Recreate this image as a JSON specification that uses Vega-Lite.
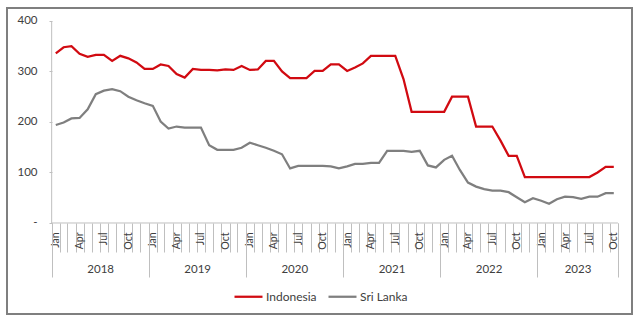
{
  "$schema": "https://vega.github.io/schema/vega-lite/v6.json",
  "width": 625,
  "height": 306,
  "autosize": {"type": "none"},
  "padding": {"left": 7, "top": 8, "right": 8, "bottom": 7},
  "config": {"font": "Lato", "view": {"stroke": "#7f7f7f", "strokeWidth": 2}},
  "layer": [
    {
      "data": {"values": [
        {"d": "2018/01/01", "Indonesia": 336, "Sri Lanka": 194},
        {"d": "2018/02/01", "Indonesia": 348, "Sri Lanka": 199},
        {"d": "2018/03/01", "Indonesia": 350, "Sri Lanka": 207},
        {"d": "2018/04/01", "Indonesia": 335, "Sri Lanka": 208},
        {"d": "2018/05/01", "Indonesia": 329, "Sri Lanka": 225},
        {"d": "2018/06/01", "Indonesia": 333, "Sri Lanka": 255},
        {"d": "2018/07/01", "Indonesia": 333, "Sri Lanka": 262},
        {"d": "2018/08/01", "Indonesia": 321, "Sri Lanka": 265},
        {"d": "2018/09/01", "Indonesia": 331, "Sri Lanka": 261},
        {"d": "2018/10/01", "Indonesia": 326, "Sri Lanka": 250},
        {"d": "2018/11/01", "Indonesia": 318, "Sri Lanka": 243},
        {"d": "2018/12/01", "Indonesia": 305, "Sri Lanka": 237},
        {"d": "2019/01/01", "Indonesia": 305, "Sri Lanka": 232},
        {"d": "2019/02/01", "Indonesia": 314, "Sri Lanka": 201},
        {"d": "2019/03/01", "Indonesia": 311, "Sri Lanka": 187},
        {"d": "2019/04/01", "Indonesia": 295, "Sri Lanka": 191},
        {"d": "2019/05/01", "Indonesia": 288, "Sri Lanka": 189},
        {"d": "2019/06/01", "Indonesia": 305, "Sri Lanka": 189},
        {"d": "2019/07/01", "Indonesia": 303, "Sri Lanka": 189},
        {"d": "2019/08/01", "Indonesia": 303, "Sri Lanka": 154},
        {"d": "2019/09/01", "Indonesia": 302, "Sri Lanka": 145},
        {"d": "2019/10/01", "Indonesia": 304, "Sri Lanka": 145},
        {"d": "2019/11/01", "Indonesia": 303, "Sri Lanka": 145},
        {"d": "2019/12/01", "Indonesia": 311, "Sri Lanka": 149},
        {"d": "2020/01/01", "Indonesia": 303, "Sri Lanka": 159},
        {"d": "2020/02/01", "Indonesia": 304, "Sri Lanka": 154},
        {"d": "2020/03/01", "Indonesia": 321, "Sri Lanka": 149},
        {"d": "2020/04/01", "Indonesia": 321, "Sri Lanka": 143},
        {"d": "2020/05/01", "Indonesia": 300, "Sri Lanka": 136},
        {"d": "2020/06/01", "Indonesia": 287, "Sri Lanka": 108},
        {"d": "2020/07/01", "Indonesia": 287, "Sri Lanka": 113},
        {"d": "2020/08/01", "Indonesia": 287, "Sri Lanka": 113},
        {"d": "2020/09/01", "Indonesia": 301, "Sri Lanka": 113},
        {"d": "2020/10/01", "Indonesia": 301, "Sri Lanka": 113},
        {"d": "2020/11/01", "Indonesia": 314, "Sri Lanka": 112},
        {"d": "2020/12/01", "Indonesia": 314, "Sri Lanka": 108},
        {"d": "2021/01/01", "Indonesia": 301, "Sri Lanka": 112},
        {"d": "2021/02/01", "Indonesia": 308, "Sri Lanka": 117},
        {"d": "2021/03/01", "Indonesia": 316, "Sri Lanka": 117},
        {"d": "2021/04/01", "Indonesia": 331, "Sri Lanka": 119},
        {"d": "2021/05/01", "Indonesia": 331, "Sri Lanka": 119},
        {"d": "2021/06/01", "Indonesia": 331, "Sri Lanka": 143},
        {"d": "2021/07/01", "Indonesia": 331, "Sri Lanka": 143},
        {"d": "2021/08/01", "Indonesia": 285, "Sri Lanka": 143},
        {"d": "2021/09/01", "Indonesia": 220, "Sri Lanka": 141},
        {"d": "2021/10/01", "Indonesia": 220, "Sri Lanka": 143},
        {"d": "2021/11/01", "Indonesia": 220, "Sri Lanka": 114},
        {"d": "2021/12/01", "Indonesia": 220, "Sri Lanka": 110},
        {"d": "2022/01/01", "Indonesia": 220, "Sri Lanka": 125},
        {"d": "2022/02/01", "Indonesia": 250, "Sri Lanka": 133},
        {"d": "2022/03/01", "Indonesia": 250, "Sri Lanka": 105},
        {"d": "2022/04/01", "Indonesia": 250, "Sri Lanka": 80},
        {"d": "2022/05/01", "Indonesia": 191, "Sri Lanka": 72},
        {"d": "2022/06/01", "Indonesia": 191, "Sri Lanka": 67},
        {"d": "2022/07/01", "Indonesia": 191, "Sri Lanka": 64},
        {"d": "2022/08/01", "Indonesia": 163, "Sri Lanka": 64},
        {"d": "2022/09/01", "Indonesia": 133, "Sri Lanka": 61},
        {"d": "2022/10/01", "Indonesia": 133, "Sri Lanka": 51},
        {"d": "2022/11/01", "Indonesia": 91, "Sri Lanka": 41},
        {"d": "2022/12/01", "Indonesia": 91, "Sri Lanka": 49},
        {"d": "2023/01/01", "Indonesia": 91, "Sri Lanka": 44},
        {"d": "2023/02/01", "Indonesia": 91, "Sri Lanka": 38},
        {"d": "2023/03/01", "Indonesia": 91, "Sri Lanka": 47},
        {"d": "2023/04/01", "Indonesia": 91, "Sri Lanka": 52},
        {"d": "2023/05/01", "Indonesia": 91, "Sri Lanka": 51},
        {"d": "2023/06/01", "Indonesia": 91, "Sri Lanka": 48},
        {"d": "2023/07/01", "Indonesia": 91, "Sri Lanka": 52},
        {"d": "2023/08/01", "Indonesia": 100, "Sri Lanka": 52},
        {"d": "2023/09/01", "Indonesia": 111, "Sri Lanka": 59},
        {"d": "2023/10/01", "Indonesia": 111, "Sri Lanka": 59}
      ]},
      "transform": [{"fold": ["Indonesia", "Sri Lanka"], "as": ["country", "price"]}],
      "mark": {"type": "line", "strokeWidth": 2.25},
      "encoding": {
        "x": {
          "field": "d", "type": "temporal", "timeUnit": "yearmonth", "bandPosition": 0.5,
          "scale": {"domain": [{"year": 2017, "month": 7, "date": 17}, {"year": 2023, "month": 12, "date": 24}], "nice": false},
          "axis": {
            "values": [
              {"year": 2018, "month": 1, "date": 1}, {"year": 2018, "month": 2, "date": 1}, {"year": 2018, "month": 3, "date": 1}, {"year": 2018, "month": 4, "date": 1}, {"year": 2018, "month": 5, "date": 1}, {"year": 2018, "month": 6, "date": 1}, {"year": 2018, "month": 7, "date": 1}, {"year": 2018, "month": 8, "date": 1}, {"year": 2018, "month": 9, "date": 1}, {"year": 2018, "month": 10, "date": 1}, {"year": 2018, "month": 11, "date": 1}, {"year": 2018, "month": 12, "date": 1},
              {"year": 2019, "month": 1, "date": 1}, {"year": 2019, "month": 2, "date": 1}, {"year": 2019, "month": 3, "date": 1}, {"year": 2019, "month": 4, "date": 1}, {"year": 2019, "month": 5, "date": 1}, {"year": 2019, "month": 6, "date": 1}, {"year": 2019, "month": 7, "date": 1}, {"year": 2019, "month": 8, "date": 1}, {"year": 2019, "month": 9, "date": 1}, {"year": 2019, "month": 10, "date": 1}, {"year": 2019, "month": 11, "date": 1}, {"year": 2019, "month": 12, "date": 1},
              {"year": 2020, "month": 1, "date": 1}, {"year": 2020, "month": 2, "date": 1}, {"year": 2020, "month": 3, "date": 1}, {"year": 2020, "month": 4, "date": 1}, {"year": 2020, "month": 5, "date": 1}, {"year": 2020, "month": 6, "date": 1}, {"year": 2020, "month": 7, "date": 1}, {"year": 2020, "month": 8, "date": 1}, {"year": 2020, "month": 9, "date": 1}, {"year": 2020, "month": 10, "date": 1}, {"year": 2020, "month": 11, "date": 1}, {"year": 2020, "month": 12, "date": 1},
              {"year": 2021, "month": 1, "date": 1}, {"year": 2021, "month": 2, "date": 1}, {"year": 2021, "month": 3, "date": 1}, {"year": 2021, "month": 4, "date": 1}, {"year": 2021, "month": 5, "date": 1}, {"year": 2021, "month": 6, "date": 1}, {"year": 2021, "month": 7, "date": 1}, {"year": 2021, "month": 8, "date": 1}, {"year": 2021, "month": 9, "date": 1}, {"year": 2021, "month": 10, "date": 1}, {"year": 2021, "month": 11, "date": 1}, {"year": 2021, "month": 12, "date": 1},
              {"year": 2022, "month": 1, "date": 1}, {"year": 2022, "month": 2, "date": 1}, {"year": 2022, "month": 3, "date": 1}, {"year": 2022, "month": 4, "date": 1}, {"year": 2022, "month": 5, "date": 1}, {"year": 2022, "month": 6, "date": 1}, {"year": 2022, "month": 7, "date": 1}, {"year": 2022, "month": 8, "date": 1}, {"year": 2022, "month": 9, "date": 1}, {"year": 2022, "month": 10, "date": 1}, {"year": 2022, "month": 11, "date": 1}, {"year": 2022, "month": 12, "date": 1},
              {"year": 2023, "month": 1, "date": 1}, {"year": 2023, "month": 2, "date": 1}, {"year": 2023, "month": 3, "date": 1}, {"year": 2023, "month": 4, "date": 1}, {"year": 2023, "month": 5, "date": 1}, {"year": 2023, "month": 6, "date": 1}, {"year": 2023, "month": 7, "date": 1}, {"year": 2023, "month": 8, "date": 1}, {"year": 2023, "month": 9, "date": 1}, {"year": 2023, "month": 10, "date": 1}, {"year": 2023, "month": 11, "date": 1}
            ],
            "title": null, "offset": -91, "domain": false, "grid": false,
            "tickSize": 29, "tickColor": "#bfbfbf", "tickWidth": 1,
            "labelExpr": "month(datum.value) % 3 == 0 ? timeFormat(datum.value, '%b') : ''",
            "labelAngle": 270, "labelAlign": "right", "labelBaseline": "middle",
            "labelPadding": -20, "labelOffset": 4, "labelFontSize": 10.5, "labelColor": "#404040",
            "labelFlush": false, "labelOverlap": false, "labelBound": false
          }
        },
        "y": {
          "field": "price", "type": "quantitative",
          "scale": {"domain": [-180.2, 425.7], "nice": false, "zero": false},
          "axis": {
            "values": [0, 50, 100, 150, 200, 250, 300, 350, 400],
            "title": null, "offset": -45, "domain": false, "grid": false,
            "tickSize": 3, "tickColor": "#bfbfbf", "labelPadding": 12,
            "labelExpr": "datum.value == 0 ? '-\u00a0\u00a0\u00a0' : datum.label",
            "labelFontSize": 11.5, "labelColor": "#404040"
          }
        },
        "color": {
          "field": "country", "type": "nominal",
          "scale": {"domain": ["Indonesia", "Sri Lanka"], "range": ["#d10a11", "#7f7f7f"]},
          "legend": {
            "orient": "none", "legendX": 226, "legendY": 273, "direction": "horizontal", "title": null,
            "symbolType": "stroke", "symbolSize": 784, "symbolStrokeWidth": 2.25,
            "labelOffset": 2, "columnPadding": 7, "labelFontSize": 12, "labelColor": "#404040"
          }
        }
      }
    },
    {
      "data": {"values": [{}]},
      "mark": {"type": "rule", "color": "#bfbfbf", "strokeWidth": 1},
      "encoding": {
        "x": {
          "datum": {"year": 2018, "month": 1, "date": 1}, "type": "temporal",
          "axis": {
            "orient": "top",
            "values": [
              {"year": 2018, "month": 1, "date": 1}, {"year": 2019, "month": 1, "date": 1}, {"year": 2020, "month": 1, "date": 1},
              {"year": 2021, "month": 1, "date": 1}, {"year": 2022, "month": 1, "date": 1}, {"year": 2023, "month": 1, "date": 1},
              {"year": 2023, "month": 11, "date": 1}
            ],
            "title": null, "offset": -269, "domain": false, "grid": false,
            "tickSize": 54, "tickColor": "#bfbfbf", "tickWidth": 1,
            "labelExpr": "month(datum.value) == 0 ? timeFormat(datum.value, '%Y') : ''",
            "labelOffset": {"condition": {"test": "year(datum.value) == 2023", "value": 40.4}, "value": 48.5},
            "labelAngle": 0, "labelAlign": "center", "labelBaseline": "bottom",
            "labelPadding": -51, "labelFontSize": 11.5, "labelColor": "#404040",
            "labelFlush": false, "labelOverlap": false, "labelBound": false
          }
        },
        "x2": {"datum": {"year": 2023, "month": 11, "date": 1}},
        "y": {"datum": 0, "type": "quantitative"}
      }
    },
    {
      "data": {"values": [{}]},
      "mark": {"type": "rule", "color": "#bfbfbf", "strokeWidth": 1},
      "encoding": {
        "x": {"datum": {"year": 2018, "month": 1, "date": 1}, "type": "temporal", "axis": null},
        "y": {"datum": 0, "type": "quantitative"},
        "y2": {"datum": 400}
      }
    }
  ],
  "resolve": {"axis": {"x": "independent"}}
}
